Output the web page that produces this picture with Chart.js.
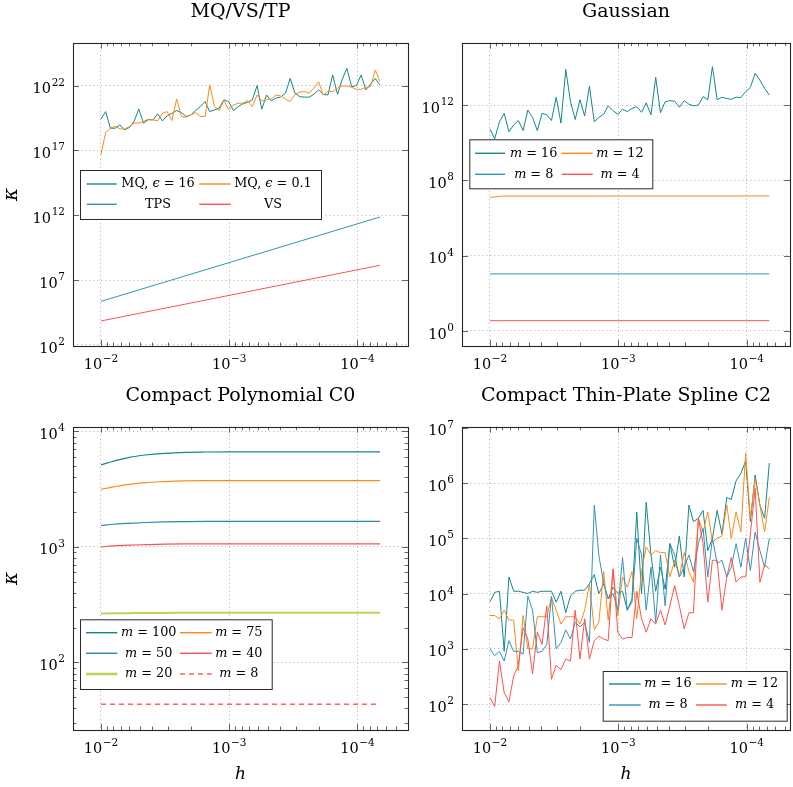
<!DOCTYPE html>
<html><head><meta charset="utf-8">
<script src="https://cdn.jsdelivr.net/npm/chart.js@4.4.1/dist/chart.umd.min.js"></script>
<style>
html,body{margin:0;padding:0;background:#fff;width:793px;height:787px;overflow:hidden;}
canvas{position:absolute;}
</style></head><body>
<canvas id="cTL" width="420" height="380" style="left:0;top:0;width:420px;height:380px"></canvas>
<canvas id="cTR" width="373" height="380" style="left:420px;top:0;width:373px;height:380px"></canvas>
<canvas id="cBL" width="420" height="407" style="left:0;top:380px;width:420px;height:407px"></canvas>
<canvas id="cBR" width="373" height="407" style="left:420px;top:380px;width:373px;height:407px"></canvas>
<script>
// ---------------- data ----------------
const hValues = [1.00e-2,9.19e-3,8.44e-3,7.75e-3,7.12e-3,6.54e-3,6.01e-3,5.52e-3,5.07e-3,4.66e-3,
  4.28e-3,3.93e-3,3.61e-3,3.32e-3,3.05e-3,2.80e-3,2.57e-3,2.36e-3,2.17e-3,1.99e-3,
  1.83e-3,1.68e-3,1.54e-3,1.42e-3,1.30e-3,1.20e-3,1.10e-3,1.01e-3,9.28e-4,8.52e-4,
  7.83e-4,7.19e-4,6.60e-4,6.07e-4,5.57e-4,5.12e-4,4.70e-4,4.32e-4,3.97e-4,3.64e-4,
  3.35e-4,3.07e-4,2.82e-4,2.60e-4,2.38e-4,2.19e-4,2.01e-4,1.85e-4,1.70e-4,1.56e-4,
  1.43e-4,1.32e-4,1.21e-4,1.11e-4,1.02e-4,9.37e-5,8.60e-5,7.90e-5,7.26e-5,6.67e-5];

// MQ/VS/TP
const mqEps16 = [2.6e19,1.0e20,5.2e18,5.2e18,9.3e18,3.9e18,5.9e18,1.7e19,1.6e20,1.3e19,
  2.3e19,2.3e19,6.6e19,1.9e19,4.7e19,7.4e19,1.2e20,8.3e19,4.2e19,5.5e19,
  1.2e20,2.4e20,5.9e20,1.0e20,1.35e20,1.8e20,7.9e20,5.9e20,1.2e20,2.4e20,
  3.9e20,5.2e20,7.9e20,1.0e22,1.5e20,1.9e21,6.6e20,1.1e21,1.3e21,2.6e21,
  3.6e22,2.6e21,1.4e21,1.3e21,1.3e21,2.1e21,4.7e21,2.1e21,1.9e21,6.6e22,
  2.1e21,2.8e22,2.1e23,8.3e21,1.0e22,6.6e22,4.7e21,1.35e22,3.6e22,1.1e22];
const mqEps01 = [4.7e16,2.5e18,5.2e18,7.1e18,4.7e18,4.4e18,7.1e18,1.3e19,1.3e19,1.7e19,
  2.6e19,2.3e19,1.9e19,7.4e19,1.0e20,2.0e19,9.3e20,4.2e19,3.6e19,5.5e19,
  8.3e19,4.2e19,4.2e19,1.1e22,2.4e20,1.2e20,7.1e20,1.35e20,3.2e20,4.4e20,
  4.4e20,7.1e20,2.4e20,1.9e21,6.6e20,7.9e20,9.3e20,1.9e21,1.6e21,8.9e20,
  5.9e20,2.1e21,3.1e21,3.5e21,2.6e21,6.3e21,2.0e22,1.9e21,3.5e21,3.5e21,
  6.3e21,9.3e21,9.3e21,7.4e21,5.2e21,5.2e21,7.4e21,8.3e21,1.6e23,2.0e22];
const lineEndsH = [1.0e-2, 6.67e-5];
const tpsKappa = [2.3e5, 7.4e11];
const vsKappa = [7.1e3, 1.4e8];

// Gaussian
const gaussM16 = [5.4e10,1.6e10,1.3e11,3.6e11,3.8e10,8.7e10,1.5e11,4.4e10,5.4e11,2.2e11,
  4.4e10,3.6e11,3.0e11,1.5e11,2.6e12,1.1e11,7.8e13,1.5e12,1.7e11,1.9e12,
  2.6e11,1.0e13,1.3e11,2.2e11,3.3e11,9.1e11,5.0e11,3.2e11,5.9e11,4.5e11,
  6.6e11,8.1e11,4.1e11,1.3e12,3.0e11,3.0e13,3.9e11,1.5e12,1.7e12,1.6e12,
  7.6e11,1.7e12,1.1e12,9.1e11,1.0e12,2.8e12,1.9e12,1.1e14,1.9e12,2.6e12,
  2.2e12,2.0e12,2.6e12,2.5e12,5.1e12,8.7e12,4.8e13,2.1e13,7.6e12,3.4e12];
const gaussFlatH = [1.0e-2, 8.0e-3, 6.67e-5];
const gaussM12 = [1.25e7, 1.45e7, 1.48e7];
const gaussM8 = [1.07e3, 1.07e3, 1.07e3];
const gaussM4 = [3.5, 3.5, 3.5];

// Compact Polynomial C0
const cpH = [1.0e-2,8.0e-3,6.0e-3,4.5e-3,3.2e-3,2.2e-3,1.5e-3,1.0e-3,5.0e-4,2.0e-4,6.67e-5];
const cpM100 = [5120,5510,5960,6240,6450,6580,6620,6640,6640,6640,6640];
const cpM75 = [3150,3300,3480,3600,3670,3720,3740,3740,3740,3740,3740];
const cpM50 = [1530,1570,1600,1625,1645,1655,1660,1660,1660,1660,1660];
const cpM40 = [1000,1020,1035,1045,1055,1060,1062,1062,1062,1062,1062];
const cpM20 = [265,266,267,268,268,269,269,269,269,269,269];
const cpM8 = [43.4,43.4,43.4,43.4,43.4,43.4,43.4,43.4,43.4,43.4,43.4];

// Compact Thin-Plate Spline C2
const ctpsM16 = [7e3,1.05e4,1.1e4,900,2e4,1.1e4,1.1e4,1.05e4,1e4,1.1e4,
  1.05e4,1.1e4,1.1e4,1.1e4,7e3,1.1e4,4.5e3,9e3,1.1e4,1.15e4,
  1.15e4,1.5e4,2.2e4,1e4,1.5e4,8e3,1.3e4,1e4,1.1e4,5e3,
  8e3,3e5,1e4,4.5e5,5e4,1.1e4,3e4,1.2e4,8e4,3e4,
  1.1e5,2e4,4e5,2e5,2.3e5,3.2e5,6e4,1e5,3.2e5,1.2e5,
  5.5e5,5e5,1.1e6,1.5e6,2.5e6,2e5,1.4e6,4e5,2.3e5,2.3e6];
const ctpsM12 = [4e3,4e3,3.5e3,5e3,3.3e3,3.3e3,400,4e3,1e3,1e3,
  3.8e3,3.8e3,3.8e3,8.5e3,5e3,2.8e3,3.8e3,3.8e3,3.8e3,2.8e3,
  5e3,1.5e4,2.2e3,3e3,2.5e4,3.3e3,2.7e4,4e3,2e4,1.3e4,
  2.5e4,3.5e3,2.5e4,7e4,5e4,6e4,5.5e4,5.5e4,2e4,4e4,
  2e4,5.5e4,2.5e4,1.6e4,2.3e5,1.3e5,3e5,8.5e4,1e5,1.1e5,
  4e5,1e5,3e5,1.3e5,3.5e6,2.3e5,1.2e6,4e5,1.3e5,5.5e5];
const ctpsM8 = [1e3,750,900,600,1.4e3,900,900,800,9e3,5e3,
  850,900,1.2e3,9e3,1e3,1.3e3,2.2e3,1.5e3,3e3,2.5e3,
  3e3,1.3e3,4e5,5e4,1.5e4,8e3,1e4,5e3,4.5e4,5e3,
  7e3,1e5,5e4,5e3,3e4,3e3,5e4,6e3,8e4,5e4,
  2e4,3e4,5e4,2.5e4,8e4,1.5e5,2e4,1e5,3.5e4,4e4,
  2e4,3e4,8e4,3e4,1e5,2.6e4,1.3e5,6e4,3e4,1e5];
const ctpsM4 = [130,90,600,160,110,320,500,2.4e3,1.5e3,350,
  2e3,1.2e3,6e3,280,500,420,650,600,5e3,650,
  3.5e3,650,1.4e3,1.7e3,1.5e3,1.4e3,2.8e4,2e3,1.5e3,1.6e3,
  1.6e3,1.1e4,3.5e3,2e3,3.5e3,2.8e3,5e3,2.7e3,6e3,1.4e4,
  6e3,2.3e3,4.5e3,4.5e3,2.3e5,8e4,7e3,4e4,4e4,5e3,
  2e4,4.5e4,1.6e4,2e4,2e4,1.2e5,8e5,1.6e4,3.3e4,2.8e4];

// ticks
const xMajorTicks = [1e-2, 1e-3, 1e-4];
const xMinorTicks = [9e-3,8e-3,7e-3,6e-3,5e-3,4e-3,3e-3,2e-3,
  9e-4,8e-4,7e-4,6e-4,5e-4,4e-4,3e-4,2e-4,
  9e-5,8e-5,7e-5,6e-5,5e-5,4e-5];
const yTicksTL = [1e2, 1e7, 1e12, 1e17, 1e22];
const yTicksTR = [1e0, 1e4, 1e8, 1e12];
const yTicksBL = [1e2, 1e3, 1e4];
const yMinorBL = [30,40,50,60,70,80,90,200,300,400,500,600,700,800,900,2000,3000,4000,5000,6000,7000,8000,9000];
const yTicksBR = [1e2, 1e3, 1e4, 1e5, 1e6, 1e7];

// ---------------- style ----------------
const FONT = 'DejaVu Serif';
const TEAL = '#14878a', ORANGE = '#fb8a1c', BLUE = '#3592b7', RED = '#fb5252', GREEN = '#bad35c';
Chart.defaults.font.family = FONT;
Chart.defaults.color = '#000';

const zip = (xs, ys) => xs.map((x, i) => ({x: x, y: ys[i]}));
const expOf = v => String(Math.round(Math.log10(v))).replace('-', '\u2212');

function series(label, xs, ys, color, extra) {
  return Object.assign({label: label, data: zip(xs, ys), borderColor: color, backgroundColor: color,
    borderWidth: 1, pointRadius: 0, fill: false, tension: 0}, extra || {});
}

// "10^e" label with a real raised exponent
function drawSci(ctx, v, x, y, align) {
  const base = '10', ex = expOf(v);
  ctx.font = '14.5px "' + FONT + '"';
  const bw = ctx.measureText(base).width;
  ctx.font = '10.5px "' + FONT + '"';
  const ew = ctx.measureText(ex).width;
  const total = bw + 0.6 + ew;
  const x0 = align === 'right' ? x - total : x - total / 2;
  ctx.fillStyle = '#000'; ctx.textAlign = 'left'; ctx.textBaseline = 'alphabetic';
  ctx.font = '14.5px "' + FONT + '"';
  ctx.fillText(base, x0, y);
  ctx.font = '10.5px "' + FONT + '"';
  ctx.fillText(ex, x0 + bw + 0.6, y - 7.6);
}

const pgfFrame = {
  id: 'pgfFrame',
  afterDatasetsDraw(chart, args, o) {
    const ctx = chart.ctx, a = chart.chartArea, xs = chart.scales.x, ys = chart.scales.y;
    ctx.save();
    ctx.strokeStyle = '#555'; ctx.lineWidth = 0.9;
    const seg = (x1, y1, x2, y2) => { ctx.beginPath(); ctx.moveTo(x1, y1); ctx.lineTo(x2, y2); ctx.stroke(); };
    const xt = (vals, len) => vals.forEach(v => {
      const p = Math.round(xs.getPixelForValue(v)) + 0.5;
      if (p < a.left + 1 || p > a.right - 1) return;
      seg(p, a.bottom, p, a.bottom - len); seg(p, a.top, p, a.top + len);
    });
    const yt = (vals, len) => vals.forEach(v => {
      const p = Math.round(ys.getPixelForValue(v)) + 0.5;
      if (p < a.top + 1 || p > a.bottom - 1) return;
      seg(a.left, p, a.left + len, p); seg(a.right, p, a.right - len, p);
    });
    xt(o.xMajor, 6); xt(o.xMinor, 3.5); yt(o.yMajor, 6); yt(o.yMinor, 3.5);
    ctx.strokeStyle = '#262626'; ctx.lineWidth = 1.1;
    ctx.strokeRect(Math.round(a.left) + 0.5, Math.round(a.top) + 0.5, Math.round(a.width), Math.round(a.height));
    // tick labels, placed through the library's scales
    o.xMajor.forEach(v => drawSci(ctx, v, xs.getPixelForValue(v), a.bottom + 23.3, 'center'));
    o.yMajor.forEach(v => drawSci(ctx, v, a.left - 8, ys.getPixelForValue(v) + 7.6, 'right'));
    ctx.restore();
  }
};

function drawRich(ctx, text, cx, cy, size) {
  const parts = [];
  for (const ch of text) {
    const it = (ch === 'm' || ch === '\u03f5');
    if (parts.length && parts[parts.length - 1].it === it) parts[parts.length - 1].t += ch;
    else parts.push({t: ch, it: it});
  }
  const fontOf = p => (p.it ? 'italic ' : '') + size + 'px "' + FONT + '"';
  let w = 0;
  parts.forEach(p => { ctx.font = fontOf(p); p.w = ctx.measureText(p.t).width; w += p.w; });
  let x = cx - w / 2;
  ctx.fillStyle = '#000'; ctx.textBaseline = 'middle'; ctx.textAlign = 'left';
  parts.forEach(p => { ctx.font = fontOf(p); ctx.fillText(p.t, x, cy); x += p.w; });
}

const pgfLegend = {
  id: 'pgfLegend',
  afterDraw(chart, args, o) {
    if (!o || !o.box) return;
    const ctx = chart.ctx, b = o.box;
    ctx.save();
    ctx.fillStyle = '#fff';
    ctx.fillRect(b[0], b[1], b[2] - b[0], b[3] - b[1]);
    ctx.strokeStyle = '#2a2a2a'; ctx.lineWidth = 1;
    ctx.strokeRect(b[0] + 0.5, b[1] + 0.5, b[2] - b[0], b[3] - b[1]);
    chart.data.datasets.forEach((ds, i) => {
      const y = o.rows[Math.floor(i / 2)], col = o.cols[i % 2];
      ctx.strokeStyle = ds.borderColor;
      ctx.lineWidth = ds.legendWidth || 1.4;
      ctx.setLineDash(ds.borderDash || []);
      ctx.beginPath(); ctx.moveTo(col[0], y); ctx.lineTo(col[1], y); ctx.stroke();
      ctx.setLineDash([]);
      drawRich(ctx, ds.label, col[2], y, 12.8);
    });
    ctx.restore();
  }
};

function panel(id, cfg) {
  const datasets = cfg.datasets.map((d, i) => Object.assign(d, {order: -i}));
  return new Chart(document.getElementById(id), {
    type: 'line',
    data: {datasets: datasets},
    plugins: [pgfFrame, pgfLegend],
    options: {
      responsive: false, animation: false, events: [],
      layout: {padding: {left: 0, right: cfg.padRight, top: 0, bottom: 0}},
      plugins: {
        legend: {display: false}, tooltip: {enabled: false},
        title: {display: true, text: cfg.title, fullSize: false, color: '#000',
          font: {family: FONT, size: 19, weight: 'normal', lineHeight: 1.2},
          padding: {top: cfg.titleTop, bottom: cfg.titleBottom}},
        pgfFrame: {xMajor: xMajorTicks, xMinor: xMinorTicks, yMajor: cfg.yMajor, yMinor: cfg.yMinor || []},
        pgfLegend: cfg.legend
      },
      scales: {
        x: {
          type: 'logarithmic', reverse: true, min: cfg.xMin, max: cfg.xMax,
          afterBuildTicks: s => { s.ticks = xMajorTicks.map(v => ({value: v})); },
          afterFit: s => { s.height = cfg.xH; },
          ticks: {display: false, autoSkip: false},
          grid: {color: '#c2c2c2', drawTicks: false, lineWidth: 1},
          border: {display: false, dash: [1.3, 2.7]},
          title: cfg.xTitle ? {display: true, text: 'h', color: '#000', font: {family: FONT, size: 17, style: 'italic', lineHeight: 1.2}, padding: {top: 0, bottom: 2}} : {display: false}
        },
        y: {
          type: 'logarithmic', min: cfg.yMin, max: cfg.yMax,
          afterBuildTicks: s => { s.ticks = cfg.yMajor.map(v => ({value: v})); },
          afterFit: s => { s.width = cfg.yW; },
          ticks: {display: false, autoSkip: false},
          grid: {color: '#c2c2c2', drawTicks: false, lineWidth: 1},
          border: {display: false, dash: [1.3, 2.7]},
          title: cfg.yTitle ? {display: true, text: '\u03ba', color: '#000', font: {family: FONT, size: 20, style: 'italic', lineHeight: 1.2}, padding: {top: 0, bottom: 0}} : {display: false}
        }
      }
    }
  });
}

const X_MAX = Math.pow(10, -1.782);
const X_MIN_L = Math.pow(10, -4.394);
const X_MIN_R = Math.pow(10, -4.337);

panel('cTL', {
  title: 'MQ/VS/TP', titleTop: 0.3, titleBottom: 19.6, padRight: 12, yW: 73, xH: 34,
  xMin: X_MIN_L, xMax: X_MAX, yMin: Math.pow(10, 1.92), yMax: Math.pow(10, 25.31),
  yMajor: yTicksTL, yTitle: true, xTitle: false,
  datasets: [
    series('MQ, \u03f5 = 16', hValues, mqEps16, TEAL),
    series('MQ, \u03f5 = 0.1', hValues, mqEps01, ORANGE),
    series('TPS', lineEndsH, tpsKappa, BLUE),
    series('VS', lineEndsH, vsKappa, RED)
  ],
  legend: {box: [80, 170, 321, 219], rows: [184, 204.3], cols: [[86.7, 116.7, 158], [199.3, 230.7, 273]]}
});

panel('cTR', {
  title: 'Gaussian', titleTop: 0.3, titleBottom: 19.6, padRight: 3, yW: 42, xH: 34,
  xMin: X_MIN_R, xMax: X_MAX, yMin: Math.pow(10, -0.8), yMax: Math.pow(10, 15.31),
  yMajor: yTicksTR, yTitle: false, xTitle: false,
  datasets: [
    series('m = 16', hValues, gaussM16, TEAL),
    series('m = 12', gaussFlatH, gaussM12, ORANGE),
    series('m = 8', gaussFlatH, gaussM8, BLUE),
    series('m = 4', gaussFlatH, gaussM4, RED)
  ],
  legend: {box: [49.3, 139.3, 232.3, 188.3], rows: [153.3, 174.3], cols: [[55, 85, 113.7], [141.7, 172.7, 200]]}
});

panel('cBL', {
  title: 'Compact Polynomial C0', titleTop: 4.6, titleBottom: 19.3, padRight: 12, yW: 73, xH: 57,
  xMin: X_MIN_L, xMax: X_MAX, yMin: Math.pow(10, 1.415), yMax: Math.pow(10, 4.04),
  yMajor: yTicksBL, yMinor: yMinorBL, yTitle: true, xTitle: true,
  datasets: [
    series('m = 100', cpH, cpM100, TEAL, {cubicInterpolationMode: 'monotone', borderWidth: 1.2}),
    series('m = 75', cpH, cpM75, ORANGE, {cubicInterpolationMode: 'monotone', borderWidth: 1.2}),
    series('m = 50', cpH, cpM50, '#2b88ad', {cubicInterpolationMode: 'monotone', borderWidth: 1.2}),
    series('m = 40', cpH, cpM40, RED, {cubicInterpolationMode: 'monotone', borderWidth: 1.2}),
    series('m = 20', cpH, cpM20, GREEN, {cubicInterpolationMode: 'monotone', borderWidth: 2, legendWidth: 2.6}),
    series('m = 8', cpH, cpM8, '#ff5f5f', {borderWidth: 1.5, borderDash: [5, 4], legendWidth: 1.6})
  ],
  legend: {box: [80, 239.3, 271.7, 309], rows: [252.7, 273.3, 294], cols: [[86, 117.3, 148.7], [180, 211.7, 238.8]]}
});

panel('cBR', {
  title: 'Compact Thin-Plate Spline C2', titleTop: 4.6, titleBottom: 19.3, padRight: 3, yW: 42, xH: 57,
  xMin: X_MIN_R, xMax: X_MAX, yMin: Math.pow(10, 1.53), yMax: Math.pow(10, 7.02),
  yMajor: yTicksBR, yTitle: false, xTitle: true,
  datasets: [
    series('m = 16', hValues, ctpsM16, TEAL),
    series('m = 12', hValues, ctpsM12, ORANGE),
    series('m = 8', hValues, ctpsM8, BLUE),
    series('m = 4', hValues, ctpsM4, RED)
  ],
  legend: {box: [182.7, 291, 366.7, 340.7], rows: [304, 325], cols: [[189, 220.7, 248], [276, 306.7, 334.5]]}
});
</script>
</body></html>
